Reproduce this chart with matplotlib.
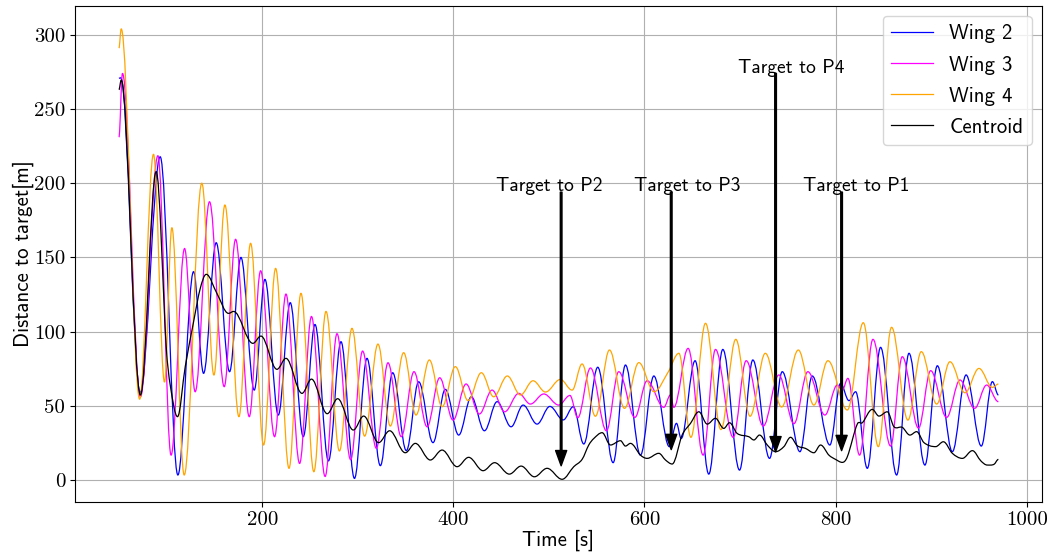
import matplotlib
matplotlib.use('Agg')
import matplotlib.pyplot as plt
from matplotlib.path import Path
from matplotlib.patches import PathPatch
from matplotlib.lines import Line2D
import numpy as np

# ---------------- data ----------------
wing2_t = [50, 52, 72.3, 93.2, 111.7, 128.1, 138.6, 151.8, 165.8, 177.7, 191.6, 202.8, 216.8,
           229.3, 242.9, 255.2, 269.3, 282.4, 296.5, 309.6, 323.6, 336.5, 350.8, 363.7, 378.7,
           391.6, 405.6, 418.8, 432.5, 445.8, 460.4, 473, 487.6, 501, 515, 525.5, 536.5, 551.1,
           567.2, 580.1, 595.8, 609.8, 626, 633.5, 638.4, 653, 667.3, 682, 699.5, 713.4, 730.9,
           744.2, 762.7, 775.6, 794, 805.2, 814, 821, 833.2, 847.1, 863.9, 876.8, 893.5, 906.5,
           922.2, 936.6, 952.5, 964.1, 970.4]
wing2_v = [270.7, 271, 59, 217.8, 3.4, 140.4, 71.9, 159.9, 73, 150, 60.6, 135.2, 43.8,
           119.5, 29.2, 104.8, 12.9, 93.2, 1.1, 82, 9.7, 72.3, 19.8, 66.2, 25.2,
           61.1, 30.3, 56.1, 33.2, 52.8, 35.9, 50.5, 37.7, 49.6, 40.5, 49.4, 24.3, 76,
           11.7, 77.5, 16.8, 70.1, 22.5, 38.2, 28, 80.4, 4, 88, 6.7, 80.9, 14.6,
           73, 19.1, 70.1, 23.6, 65.1, 53.5, 59.5, 7.9, 89.4, 3.4, 85.4, 10.1, 77,
           19.1, 70.8, 22.9, 66.3, 57.3]

wing3_t = [50, 53.7, 72.5, 90.8, 104.6, 118.7, 129.8, 144.8, 160.2, 172.1, 186.4, 198.3, 212.9,
           224.8, 239.1, 251.5, 265.8, 278.2, 292.5, 305, 319.4, 331.6, 345.5, 358.8, 372.5,
           385.7, 399.7, 413.3, 427.2, 440.5, 453.7, 468.4, 480.6, 494.6, 510.3, 522, 530.2,
           543.5, 560.2, 573.1, 589.9, 602.8, 620.2, 627.2, 630.7, 645.7, 661.4, 674.3, 692.8,
           706.5, 724.3, 740.6, 756.4, 771, 788.8, 801.8, 807, 812.9, 825.1, 839.1, 857.6,
           869.8, 886.8, 899.5, 916.2, 930.2, 945.5, 958.1, 970.4]
wing3_v = [231, 274, 56, 218.5, 16.8, 156, 59.5, 187.5, 62.9, 162.2, 42.7, 141, 29.2,
           125.3, 11.2, 110.2, 2.4, 98.6, 13.7, 86.9, 21.4, 79, 29.2, 73, 35.9,
           68.9, 40.4, 64.7, 44.5, 60.6, 46, 58.4, 51.2, 58, 50.5, 57, 42,
           75.5, 33.2, 73, 42.2, 66.9, 49, 57.3, 49, 88.7, 16.8, 88, 28.8,
           80.4, 36.4, 70.8, 38, 73, 43.8, 64, 60.6, 68.5, 16.8, 94.8, 22.9,
           83.1, 35, 73.7, 42.2, 67.4, 48.3, 64, 52.8]

wing4_t = [50, 52.4, 71.7, 86.2, 97.7, 105.4, 118.3, 136.8, 149.4, 160.9, 175.6, 187.8, 201.4,
           214, 228, 240.5, 254, 266.7, 280.8, 293.9, 307.1, 321.1, 334, 348, 360.9, 374.9,
           388.2, 402.1, 415.4, 429.3, 442.2, 456.5, 470.2, 483.4, 496.4, 512, 524.3, 534.7,
           548.7, 563.4, 579.1, 594.1, 610, 625, 636, 648.6, 663.9, 680, 695.6, 710.5, 726.5,
           743.5, 761, 777.3, 792, 812.3, 829, 844.7, 858.6, 875.7, 889.7, 905.8, 919.7,
           935.4, 950.1, 964.1, 970.4]
wing4_v = [291, 304, 54.5, 219.5, 66, 170, 3.4, 200, 70.7, 185.3, 42.7, 159.5, 23.6,
           142.6, 7.9, 125.8, 5.6, 113.6, 19.6, 102.2, 29.6, 91.6, 36.4, 85.8, 43.8, 80.9,
           49.4, 76.4, 53.5, 72.3, 56.1, 70.1, 57.3, 66.9, 59.3, 67.8, 60.6, 78.2,
           43, 87.6, 48.3, 79.1, 59.5, 73, 85.4, 28.8, 105.6, 34, 94.8, 43, 85.4,
           49.2, 87.6, 50.5, 80.4, 47.2, 106, 22.5, 102.9, 40.4, 86.5, 51.2, 79.7,
           58.8, 75.2, 62.4, 64.7]

centroid_t = [50, 52.4, 72.5, 89, 99.5, 103.7, 111.3, 119.4, 128.1, 135, 141.4, 152.5, 164.7,
              170, 190.2, 198.6, 215.4, 224.8, 241.6, 251.5, 268, 278.9, 295.3, 306.1, 321.8,
              333.3, 349.7, 360.2, 375.9, 388.2, 403.9, 416, 431.1, 443.2, 458.6, 470.9, 484.8,
              498.1, 513.8, 526, 534.7, 541.7, 547, 555.7, 564.4, 574.9, 580.1, 585.3, 595.8,
              602.8, 615, 622, 629, 639.4, 648.2, 656.9, 665.7, 674.3, 683, 689, 697, 709.2,
              714.5, 720.4, 728.5, 737.2, 745.9, 752.9, 759.9, 768.6, 777.3, 784.3, 793, 800,
              807, 812.3, 822.7, 828, 838.4, 845.4, 854.1, 861.1, 869.8, 877.8, 884.8, 892.5,
              904.7, 912.8, 922.2, 932.7, 943.2, 951.9, 958.8, 965.8, 970.4]
centroid_v = [263, 269.5, 57.3, 207.8, 89.8, 64, 42.7, 76.4, 106.5, 128.8, 138.6, 125.8, 112.3,
              113.6, 92.1, 97, 74.6, 82, 58.4, 68, 44.7, 54.8, 33.7, 43.1, 25.2,
              33.2, 18.4, 24.7, 13.5, 20.2, 9, 15.3, 6.3, 11.7, 4, 9.4, 2.2,
              7.9, 0.5, 9, 13.9, 23.6, 28, 31.9, 23.6, 26.5, 22.9, 24.7, 16.8,
              14.6, 18, 13.5, 10.8, 30.3, 38.2, 46, 37.7, 41.6, 34.8, 38.6, 31.4, 29.2,
              27, 30.3, 23.6, 19.1, 22.5, 28.8, 23.1, 21.3, 18.4, 23.6, 16.8, 13.9,
              11.9, 15.7, 37.7, 38.6, 47.6, 43.1, 46, 35.9, 35.5, 30.3, 32.6, 25.2,
              22.5, 25.8, 18, 14.6, 19.8, 13, 10.1, 10.6, 13.9]

series_labels = ['Wing 2', 'Wing 3', 'Wing 4', 'Centroid']
series_colors = ['blue', '#ff00ff', 'orange', 'black']

# annotations: label, arrow x, arrow tip y, arrow start y, text x, text y
ann_labels = ['Target to P2', 'Target to P3', 'Target to P4', 'Target to P1']
ann_x = [512.8, 628.0, 737.2, 806.3]
ann_tip = [9.6, 20.5, 19.0, 19.8]
ann_start = [194, 194, 274, 194]
ann_text_x = [444.2, 589.5, 698.0, 766.2]
ann_text_y = [195, 195, 274.5, 195]


def smooth_path(t, v):
    """Smooth curve through the read points (horizontal tangent at extremes)."""
    t = np.asarray(t, float)
    v = np.asarray(v, float)
    n = len(t)
    m = np.zeros(n)
    for i in range(1, n - 1):
        a = v[i] - v[i - 1]
        b = v[i + 1] - v[i]
        if a * b > 0:
            m[i] = (v[i + 1] - v[i - 1]) / (t[i + 1] - t[i - 1])
    verts = [(t[0], v[0])]
    codes = [Path.MOVETO]
    for i in range(n - 1):
        dt = t[i + 1] - t[i]
        k0 = 0.36 if m[i] == 0 else 1 / 3
        k1 = 0.36 if m[i + 1] == 0 else 1 / 3
        verts += [(t[i] + k0 * dt, v[i] + m[i] * k0 * dt),
                  (t[i + 1] - k1 * dt, v[i + 1] - m[i + 1] * k1 * dt),
                  (t[i + 1], v[i + 1])]
        codes += [Path.CURVE4] * 3
    return Path(verts, codes)


plt.rcParams['font.family'] = ['cmss10', 'DejaVu Sans']
plt.rcParams['axes.unicode_minus'] = False

fig = plt.figure(figsize=(10.47, 5.52), dpi=100)
ax = fig.add_axes([0.0716, 0.0911, 0.9236, 0.8986])

all_t = [wing2_t, wing3_t, wing4_t, centroid_t]
all_v = [wing2_v, wing3_v, wing4_v, centroid_v]
handles = []
for tt, vv, col, lab in zip(all_t, all_v, series_colors, series_labels):
    patch = PathPatch(smooth_path(tt, vv), facecolor='none', edgecolor=col, lw=0.9,
                      transform=ax.transData)
    ax.add_patch(patch)
    handles.append(Line2D([], [], color=col, lw=0.9, label=lab))

for lab, x, tip, st, tx, ty in zip(ann_labels, ann_x, ann_tip, ann_start, ann_text_x, ann_text_y):
    ax.annotate('', xy=(x, tip), xytext=(x, st),
                arrowprops=dict(facecolor='black', edgecolor='black', width=1.2,
                                headwidth=8, headlength=11, shrink=0))
    ax.text(tx, ty, lab, fontsize=14)

ax.set_xlim(4, 1016)
ax.set_ylim(-14.6, 319.6)
ax.set_xticks([200, 400, 600, 800, 1000])
ax.set_yticks([0, 50, 100, 150, 200, 250, 300])
ax.grid(True, color='#b0b0b0', lw=0.8)
ax.set_axisbelow(True)
ax.tick_params(labelsize=15, labelfontfamily='cmr10')
ax.set_xlabel('Time [s]', fontsize=15, labelpad=0)
ax.set_ylabel('Distance to target[m]', fontsize=15, labelpad=0)
ax.legend(handles=handles, loc='upper right', fontsize=15, labelspacing=0.58)

fig.savefig('out.png', dpi=100)
